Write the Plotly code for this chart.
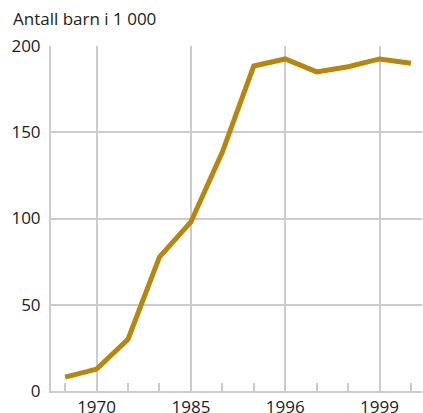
import plotly.graph_objects as go

categories = ["1968", "1970", "1975", "1980", "1985", "1990", "1993", "1996", "1997", "1998", "1999", "2000"]
values = [8, 12.7, 30, 77.7, 98, 138.5, 188.4, 192.5, 185, 188, 192.5, 190]
shown_labels = ["1970", "1985", "1996", "1999"]

xs = list(range(len(categories)))
tickvals = [categories.index(l) for l in shown_labels]

fig = go.Figure()
fig.add_trace(go.Scatter(x=xs, y=values, mode="lines",
                         line=dict(color="#B8860B", width=5),
                         hoverinfo="skip", cliponaxis=False))

fig.update_layout(
    width=423, height=413,
    margin=dict(l=51, r=1, t=46, b=22),
    paper_bgcolor="white", plot_bgcolor="white",
    font=dict(family="Open Sans", size=17, color="#222"),
    showlegend=False,
    annotations=[dict(text="Antall barn i 1 000", xref="paper", yref="paper",
                      x=-51/371, xshift=11, y=1, xanchor="left", yanchor="bottom", yshift=14,
                      showarrow=False, font=dict(size=17, color="#222"))],
)
fig.update_xaxes(range=[-0.45, 11.35], tickmode="array", tickvals=tickvals, ticktext=shown_labels,
                 showgrid=True, gridcolor="#cccccc", gridwidth=2,
                 showline=True, linecolor="#cccccc", linewidth=2,
                 ticks="", zeroline=False, ticklabelstandoff=0, automargin=False,
                 minor=dict(tickmode="array", tickvals=xs, ticks="inside", ticklen=8,
                            tickcolor="#cccccc", tickwidth=2, showgrid=False))
fig.update_yaxes(range=[0, 200], tickvals=[0, 50, 100, 150, 200],
                 showgrid=True, gridcolor="#cccccc", gridwidth=2,
                 showline=True, linecolor="#cccccc", linewidth=2,
                 ticks="", zeroline=False, ticklabelstandoff=5, automargin=False)

fig.write_html("out.html", config={"displayModeBar": False},
               post_script="document.body.style.margin='0px';")
